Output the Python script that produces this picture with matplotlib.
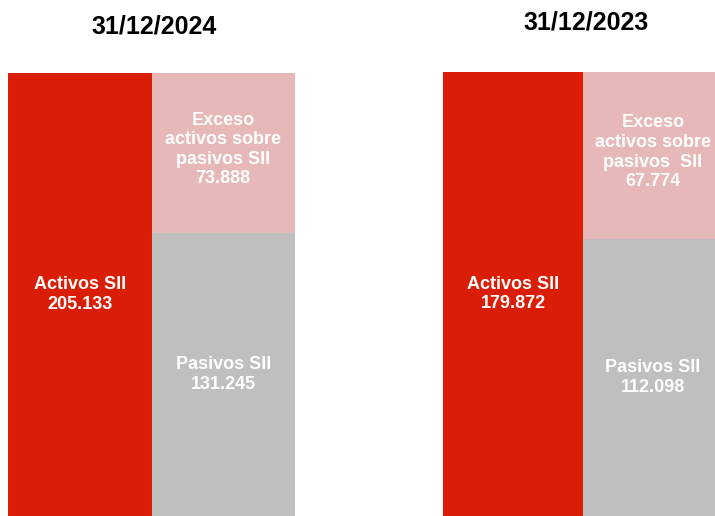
import matplotlib.pyplot as plt

plt.rcParams['font.family'] = ['Liberation Sans', 'DejaVu Sans']

fechas = ['31/12/2024', '31/12/2023']
activos = [205.133, 179.872]
pasivos = [131.245, 112.098]
exceso = [73.888, 67.774]
exceso_txt = ['Exceso\nactivos sobre\npasivos SII', 'Exceso\nactivos sobre\npasivos  SII']

rojo = '#D91E05'
rosa = '#E6B8B7'
gris = '#BFBFBF'

fig = plt.figure(figsize=(7.15, 5.16), dpi=100)

def fmt(v):
    return f'{v:.3f}'

# axes positions in figure fraction: left, bottom, width, height
posiciones = [
    [8 / 715, 0, 287 / 715, 443 / 516],
    [443 / 715, 0, 280 / 715, 444 / 516],
]
titulos_xy = [(154 / 715, 1 - 27 / 516), (586 / 715, 1 - 22 / 516)]

for i in range(2):
    ax = fig.add_axes(posiciones[i])
    ax.bar(0, activos[i], width=1, color=rojo, align='edge')
    ax.bar(1, pasivos[i], width=1, color=gris, align='edge')
    ax.bar(1, exceso[i], width=1, bottom=pasivos[i], color=rosa, align='edge')
    ax.set_xlim(0, 2)
    ax.set_ylim(0, activos[i])
    ax.axis('off')

    kw = dict(ha='center', va='center', color='white', fontsize=13,
              fontweight='bold', linespacing=1.2)
    ax.text(0.5, activos[i] / 2, 'Activos SII\n' + fmt(activos[i]), **kw)
    ax.text(1.5, pasivos[i] / 2, 'Pasivos SII\n' + fmt(pasivos[i]), **kw)
    ax.text(1.5, pasivos[i] + exceso[i] * 0.52,
            exceso_txt[i] + '\n' + fmt(exceso[i]), **kw)

    fig.text(titulos_xy[i][0], titulos_xy[i][1], fechas[i], ha='center',
             va='center', fontsize=18, fontweight='bold', color='black')

fig.savefig('out.png', dpi=100)
